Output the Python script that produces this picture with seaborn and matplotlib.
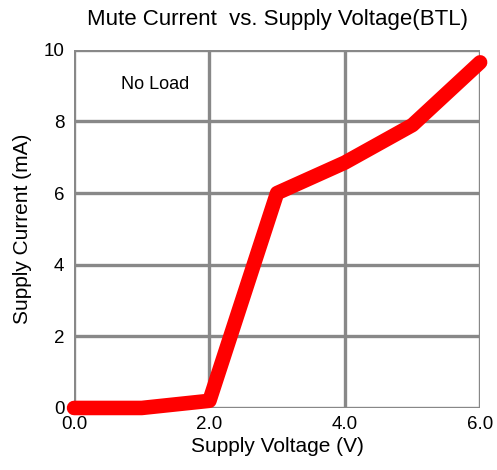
import numpy as np
import pandas as pd
import matplotlib
matplotlib.use("Agg")
import matplotlib.pyplot as plt
import seaborn as sns

sns.set_style("white")
plt.rcParams['font.family'] = ['Liberation Sans', 'DejaVu Sans']
plt.rcParams['text.color'] = 'black'
plt.rcParams['axes.labelcolor'] = 'black'

# 数据
voltage = [0.0, 1.0, 2.0, 3.0, 4.0, 5.0, 6.0]
current = [0.0, 0.0, 0.2, 6.0, 6.85, 7.9, 9.65]
x_ticks = [0.0, 2.0, 4.0, 6.0]
x_labels = ["0.0", "2.0", "4.0", "6.0"]
y_ticks = [0, 2, 4, 6, 8, 10]

df = pd.DataFrame({"Supply Voltage (V)": voltage, "Supply Current (mA)": current})

fig = plt.figure(figsize=(4.97, 4.70), dpi=100)
ax = fig.add_axes([0.149, 0.132, 0.817, 0.762])

grid_c = "#888888"
for xv in x_ticks:
    ax.axvline(xv, color=grid_c, lw=2.4, zorder=1)
for yv in y_ticks:
    ax.axhline(yv, color=grid_c, lw=2.4, zorder=1)

sns.lineplot(data=df, x="Supply Voltage (V)", y="Supply Current (mA)",
             color="#ff0000", lw=10.5, ax=ax, zorder=3)
for l in ax.lines[-1:]:
    l.set_solid_capstyle("round")
    l.set_solid_joinstyle("round")
    l.set_clip_on(False)

ax.set_xlim(0, 6)
ax.set_ylim(0, 10)
ax.set_xticks(x_ticks)
ax.set_xticklabels(x_labels)
ax.set_yticks(y_ticks)
for s in ax.spines.values():
    s.set_visible(False)
ax.tick_params(axis="both", labelsize=13.5, labelcolor="black", length=4, width=2.4, pad=3)
ax.tick_params(axis="x", length=0, pad=6)
ax.tick_params(axis="y", color=grid_c)

ax.set_xlabel("Supply Voltage (V)", fontsize=15, labelpad=3)
ax.set_ylabel("Supply Current (mA)", fontsize=15, labelpad=8)
ax.set_title("Mute Current  vs. Supply Voltage(BTL)", fontsize=16, pad=18)
ax.text(0.7, 8.9, "No Load", fontsize=13)

fig.savefig("out.png", dpi=100)
